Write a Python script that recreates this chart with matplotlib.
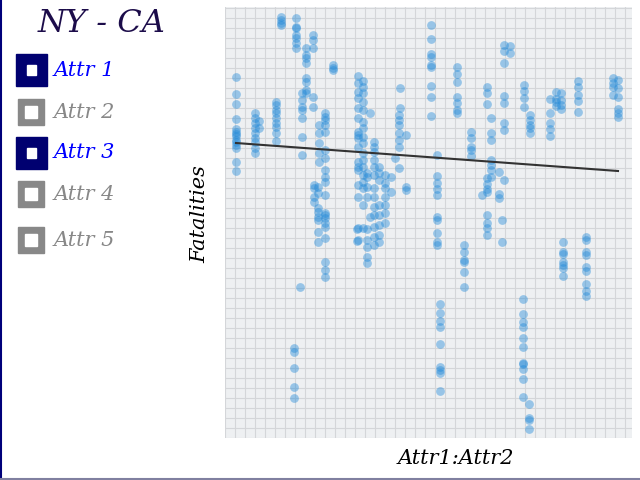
import matplotlib
matplotlib.use("Agg")
import matplotlib.pyplot as plt
from matplotlib.patches import Rectangle
from matplotlib.lines import Line2D

# scatter columns: x position and the fatalities values stacked there
col_x = [1.1, 3.0, 3.4, 5.1, 5.6, 7.1, 8.1, 7.7, 8.8, 10.8,
         10.0, 9.4, 8.9, 9.3, 7.5, 6.9,
         13.3, 13.8, 14.2, 14.5, 14.9, 15.4, 16.0, 16.6, 17.0, 17.4, 17.5, 18.1, 13.2,
         20.6, 21.2, 21.5, 23.2, 23.9, 24.6, 26.2, 26.6, 25.7, 27.4, 27.7, 27.9, 28.5,
         29.8, 30.4, 29.9, 30.5, 32.5, 33.1, 33.6, 33.8, 35.3, 36.1, 38.8, 39.3]
col_y = [
    [36.1, 34.4, 33.4, 31.9, 30.9, 30.6, 30.4, 30.2, 29.8, 29.6, 29.3, 29.0, 27.6, 26.7],
    [32.5, 32.0, 31.5, 31.0, 30.5, 30.0, 29.6, 29.0, 28.5],
    [31.7, 31.0],
    [33.6, 33.3, 32.8, 32.5, 32.0, 31.5, 31.1, 30.5, 29.7],
    [42.1, 41.8, 41.5, 41.3],
    [42.0, 41.1, 41.0, 40.3, 40.0, 39.5, 39.0],
    [39.0, 38.3, 38.0, 37.5, 36.0, 35.6, 34.8, 34.5],
    [34.5, 33.8, 33.1, 32.8, 32.0, 30.1, 28.3],
    [40.3, 39.8, 39.0, 34.1, 33.1],
    [37.3, 37.0, 36.8],
    [32.5, 32.1, 31.8, 31.3, 30.6, 28.8, 28.0, 26.8, 26.1, 25.6, 24.3, 22.5, 22.3,
     22.0, 21.5, 21.1, 20.0, 17.6, 16.8, 16.1],
    [31.3, 30.5, 29.5, 28.5, 27.6],
    [25.3, 25.0, 24.1, 23.6],
    [25.1, 24.5, 23.0, 22.6, 22.1, 21.8, 20.6, 19.6],
    [15.1],
    [9.0, 8.6, 7.0, 5.1, 4.0],
    [36.2, 35.5, 34.6, 34.0, 33.0, 32.0, 30.6, 30.3, 30.0, 29.1, 27.6, 27.1, 26.8,
     25.3, 24.1, 21.0, 19.8],
    [35.7, 35.1, 34.5, 33.6, 32.8, 31.6, 31.0, 30.1, 29.5, 28.5, 27.8, 27.1, 26.3,
     25.6, 25.0, 23.3, 21.0],
    [26.5, 26.1, 25.1, 24.1, 20.9, 19.8, 19.1, 18.1, 17.5],
    [32.5, 22.1],
    [29.6, 29.1, 28.6, 27.8, 27.1, 26.3, 25.0, 24.1, 23.1, 22.3, 21.1, 20.1, 19.3],
    [27.1, 26.5, 25.8, 23.3, 22.3, 21.3, 20.3, 19.6],
    [26.3, 25.5, 25.0, 24.1, 23.3, 22.5, 21.5],
    [26.1, 24.6],
    [28.0],
    [32.3, 31.8, 31.3, 30.5, 29.8, 29.1, 27.0],
    [35.0, 33.0],
    [30.3, 25.1, 24.8],
    [20.9, 19.7],
    [41.3, 39.9, 38.4, 38.1, 37.3, 37.1, 35.2, 34.1, 32.2],
    [28.3, 26.2, 25.5, 24.9, 24.3, 22.1, 21.8, 20.5, 19.6, 19.3],
    [13.4, 12.5, 11.7, 11.1, 9.4, 7.1, 6.8, 6.5, 4.7],
    [37.1, 36.4, 35.6, 34.1, 33.5, 32.8, 32.5],
    [19.3, 18.6, 17.8, 17.6, 16.6, 15.1],
    [30.6, 30.0, 29.1, 28.8, 28.2],
    [35.1, 34.5, 33.4, 26.0, 25.4, 24.9, 24.6, 22.3, 21.5, 21.0, 20.3],
    [32.0, 30.5, 29.8, 27.8, 27.3, 26.8, 26.1],
    [24.3],
    [26.6, 24.4, 24.0],
    [21.8, 19.6],
    [39.3, 38.7, 37.5, 34.2, 33.5, 31.5, 30.8, 25.8],
    [39.2, 38.5],
    [13.9, 12.4, 11.6, 11.1, 10.0, 9.1, 7.5, 7.4, 6.9, 5.9, 4.1],
    [3.4, 2.0, 1.8, 0.9],
    [35.3, 34.7, 34.0, 33.1],
    [32.3, 31.8, 31.3, 31.0, 30.5],
    [33.9, 32.5, 31.5, 30.9, 30.2],
    [34.6, 33.9, 33.6, 33.2],
    [34.5, 33.8, 33.3, 32.9],
    [19.6, 18.6, 18.4, 17.6, 17.3, 17.0, 16.2],
    [35.7, 35.1, 34.3, 33.7, 32.6],
    [20.1, 19.8, 18.6, 18.3, 17.1, 16.7, 15.4, 14.7, 14.2],
    [36.0, 35.5, 35.1, 34.3],
    [35.8, 35.0, 34.1, 32.9, 32.5, 32.1],
]

# trend line
trend_x = [1.1, 39.3]
trend_slope = -0.0733
trend_intercept = 29.58

attrs = ["Attr 1", "Attr 2", "Attr 3", "Attr 4", "Attr 5"]
checked = [True, False, True, False, False]

xs = []
ys = []
for x, vals in zip(col_x, col_y):
    for v in vals:
        xs.append(x)
        ys.append(v)

fig = plt.figure(figsize=(6.4, 4.8), dpi=100)
ax = fig.add_axes([225 / 640, 42 / 480, 407 / 640, 431 / 480])
ax.set_facecolor("#eef0f2")
ax.set_xlim(0, 40.7)
ax.set_ylim(0, 43.1)
ax.set_xticks(range(0, 41))
ax.set_yticks(range(0, 44))
ax.grid(True, color="#d4d6d9", linewidth=0.8)
ax.set_axisbelow(True)
ax.tick_params(length=0, labelbottom=False, labelleft=False)
for s in ax.spines.values():
    s.set_visible(False)

ax.scatter(xs, ys, s=40, color="#1f88d8", alpha=0.42, linewidths=0, zorder=3)
ty = [trend_intercept + trend_slope * x for x in trend_x]
ax.plot(trend_x, ty, color="#333333", linewidth=1.5, zorder=4)

serif = "DejaVu Serif"
fig.text(200 / 640, 1 - 214 / 480, "Fatalities", rotation=90, ha="center", va="center",
         fontsize=15, style="italic", family=serif)
fig.text(456 / 640, 1 - 459 / 480, "Attr1:Attr2", ha="center", va="center",
         fontsize=15, style="italic", family=serif)

fig.text(102 / 640, 1 - 24 / 480, "NY - CA", ha="center", va="center",
         fontsize=23, style="italic", family=serif, color="#1c0c4a")

rows_y = [70, 112, 153, 194, 240]
for name, on, cy in zip(attrs, checked, rows_y):
    if on:
        fig.add_artist(Rectangle((16 / 640, 1 - (cy + 16) / 480), 31 / 640, 32 / 480,
                                 transform=fig.transFigure, color="#000070"))
        fig.add_artist(Rectangle((27 / 640, 1 - (cy + 4.5) / 480), 9 / 640, 9 / 480,
                                 transform=fig.transFigure, color="white"))
        tc = "#0000ff"
    else:
        fig.add_artist(Rectangle((18 / 640, 1 - (cy + 13) / 480), 26 / 640, 26 / 480,
                                 transform=fig.transFigure, color="#888888"))
        fig.add_artist(Rectangle((25 / 640, 1 - (cy + 6) / 480), 12 / 640, 12 / 480,
                                 transform=fig.transFigure, color="white"))
        tc = "#888888"
    fig.text(54 / 640, 1 - cy / 480, name, ha="left", va="center", fontsize=15,
             style="italic", family=serif, color=tc)

# frame edges
fig.add_artist(Line2D([0.5 / 640, 0.5 / 640], [0, 1], transform=fig.transFigure,
                      color="#00007a", linewidth=1.5))
fig.add_artist(Line2D([0, 1], [1.5 / 480, 1.5 / 480], transform=fig.transFigure,
                      color="#8080a0", linewidth=1.5))

fig.savefig("out.png", dpi=100)
